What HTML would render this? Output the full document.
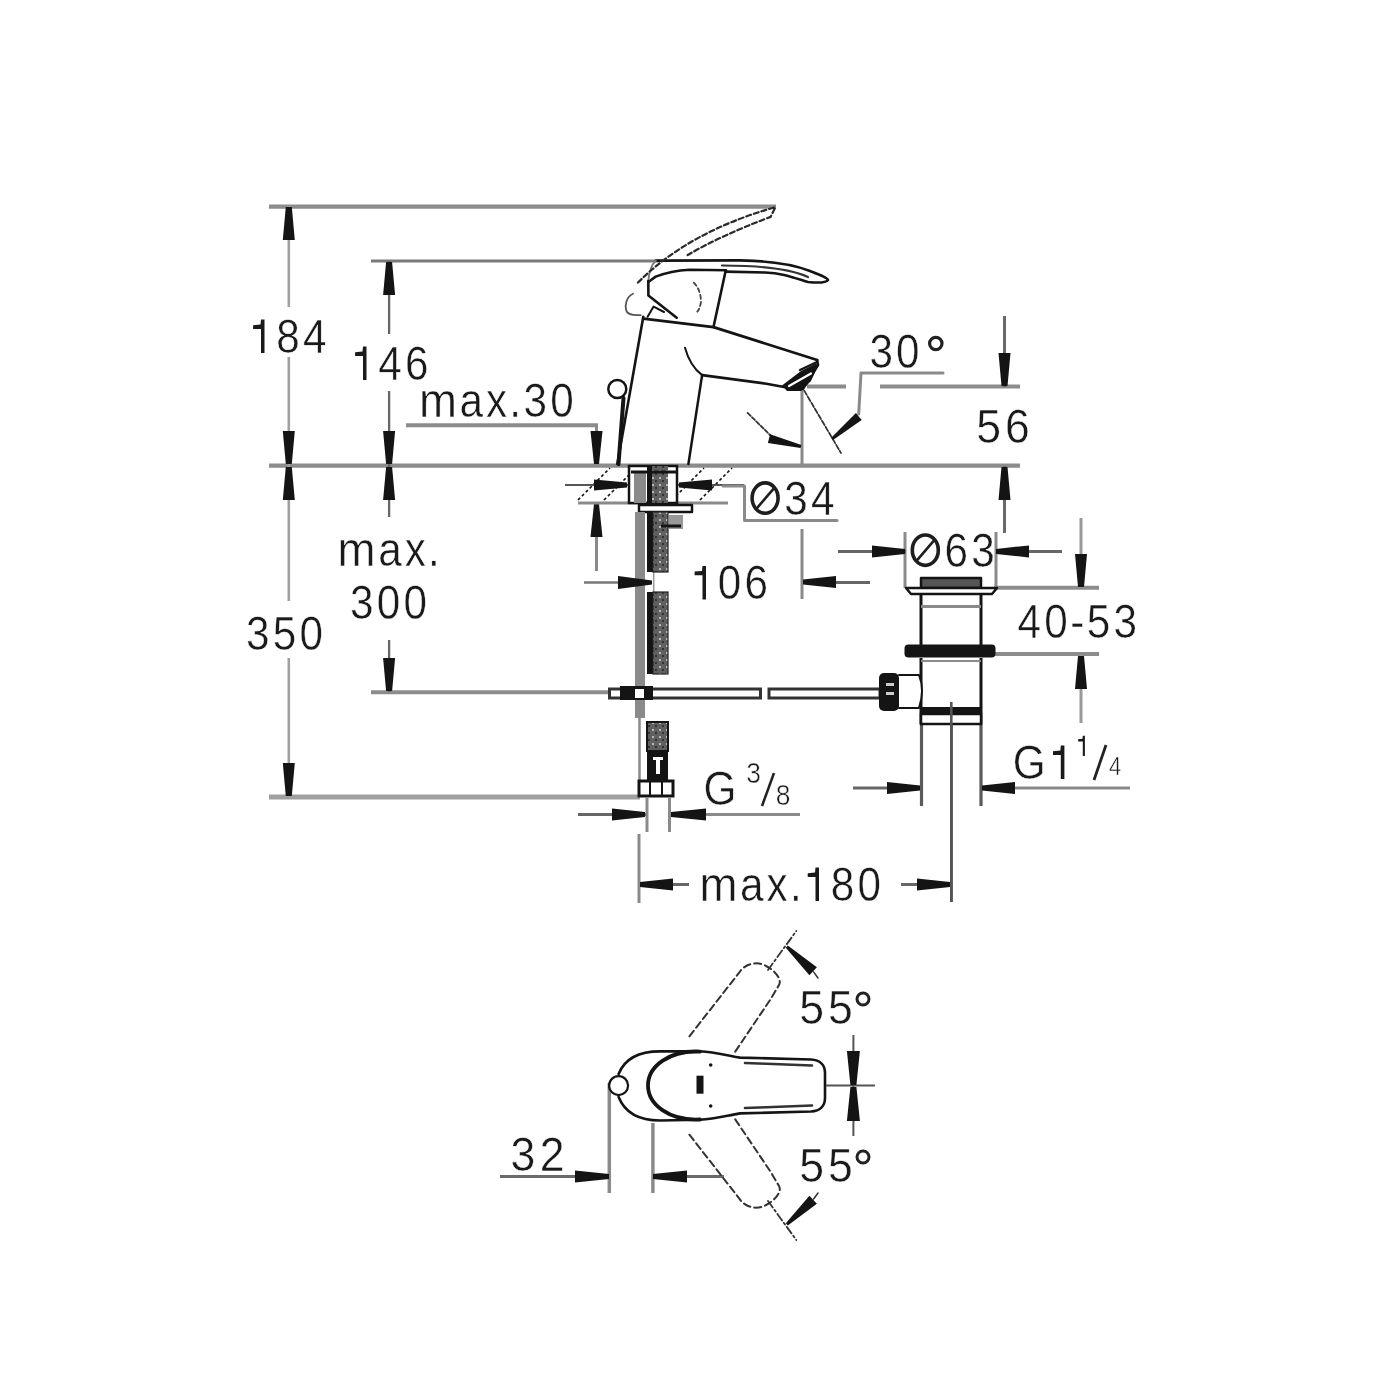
<!DOCTYPE html>
<html><head><meta charset="utf-8"><style>
html,body{margin:0;padding:0;background:#fff;}
svg{display:block;filter:blur(0.35px);}
text{font-family:"Liberation Sans",sans-serif;fill:#1a1a1a;}
</style></head><body>
<svg width="1400" height="1400" viewBox="0 0 1400 1400">
<line x1="269" y1="206.6" x2="776" y2="206.6" stroke="#8c8c8c" stroke-width="4.2" />
<line x1="371" y1="261" x2="660" y2="261" stroke="#7a7a7a" stroke-width="3.2" />
<line x1="406" y1="425.3" x2="598" y2="425.3" stroke="#8c8c8c" stroke-width="4" />
<line x1="269" y1="465.6" x2="1020" y2="465.6" stroke="#8c8c8c" stroke-width="4.2" />
<line x1="371" y1="692.3" x2="612" y2="692.3" stroke="#8c8c8c" stroke-width="4" />
<line x1="269" y1="796.9" x2="640" y2="796.9" stroke="#a0a0a0" stroke-width="5" />
<line x1="807" y1="386.5" x2="846" y2="386.5" stroke="#8c8c8c" stroke-width="4" />
<line x1="880" y1="386.5" x2="1020" y2="386.5" stroke="#8c8c8c" stroke-width="4" />
<line x1="288.8" y1="206" x2="288.8" y2="307" stroke="#a0a0a0" stroke-width="2.6" />
<line x1="288.8" y1="357" x2="288.8" y2="601" stroke="#a0a0a0" stroke-width="2.6" />
<line x1="288.8" y1="658" x2="288.8" y2="797" stroke="#a0a0a0" stroke-width="2.6" />
<polygon points="291.8,207.0 285.8,207.0 282.8,240.0 294.8,240.0" fill="#141414"/>
<polygon points="285.8,464.0 291.8,464.0 294.8,431.0 282.8,431.0" fill="#141414"/>
<polygon points="291.8,467.0 285.8,467.0 282.8,500.0 294.8,500.0" fill="#141414"/>
<polygon points="285.8,796.0 291.8,796.0 294.8,763.0 282.8,763.0" fill="#141414"/>
<polygon points="264.5,319.5 264.5,353.0 261.0,353.0 261.0,328.9 253.1,328.9 253.1,325.2 260.5,324.5 261.0,319.5" fill="#1a1a1a"/>
<text transform="translate(288.0,353) scale(0.88,1)" font-size="48" text-anchor="middle" stroke="#fff" stroke-width="0.45">8</text>
<text transform="translate(314.7,353) scale(0.88,1)" font-size="48" text-anchor="middle" stroke="#fff" stroke-width="0.45">4</text>
<text transform="translate(257.8,649.6) scale(0.88,1)" font-size="48" text-anchor="middle" stroke="#fff" stroke-width="0.45">3</text>
<text transform="translate(284.5,649.6) scale(0.88,1)" font-size="48" text-anchor="middle" stroke="#fff" stroke-width="0.45">5</text>
<text transform="translate(311.2,649.6) scale(0.88,1)" font-size="48" text-anchor="middle" stroke="#fff" stroke-width="0.45">0</text>
<line x1="389.1" y1="261" x2="389.1" y2="334" stroke="#666" stroke-width="2.3" />
<line x1="389.1" y1="391" x2="389.1" y2="517" stroke="#666" stroke-width="2.3" />
<line x1="389.1" y1="640" x2="389.1" y2="692" stroke="#666" stroke-width="2.3" />
<polygon points="392.1,262.0 386.1,262.0 383.1,295.0 395.1,295.0" fill="#141414"/>
<polygon points="386.1,464.0 392.1,464.0 395.1,431.0 383.1,431.0" fill="#141414"/>
<polygon points="392.1,467.0 386.1,467.0 383.1,500.0 395.1,500.0" fill="#141414"/>
<polygon points="386.1,691.0 392.1,691.0 395.1,658.0 383.1,658.0" fill="#141414"/>
<polygon points="366.5,346.5 366.5,380.0 363.0,380.0 363.0,355.9 355.1,355.9 355.1,352.2 362.5,351.5 363.0,346.5" fill="#1a1a1a"/>
<text transform="translate(390.0,380) scale(0.88,1)" font-size="48" text-anchor="middle" stroke="#fff" stroke-width="0.45">4</text>
<text transform="translate(416.7,380) scale(0.88,1)" font-size="48" text-anchor="middle" stroke="#fff" stroke-width="0.45">6</text>
<text transform="translate(356.6,566) scale(0.95,1)" font-size="48" text-anchor="middle" stroke="#fff" stroke-width="0.45">m</text>
<text transform="translate(389.9,566) scale(0.88,1)" font-size="48" text-anchor="middle" stroke="#fff" stroke-width="0.45">a</text>
<text transform="translate(415.3,566) scale(0.88,1)" font-size="48" text-anchor="middle" stroke="#fff" stroke-width="0.45">x</text>
<text transform="translate(433.9,566) scale(0.88,1)" font-size="48" text-anchor="middle" stroke="#fff" stroke-width="0.45">.</text>
<text transform="translate(361.8,618.6) scale(0.88,1)" font-size="48" text-anchor="middle" stroke="#fff" stroke-width="0.45">3</text>
<text transform="translate(388.5,618.6) scale(0.88,1)" font-size="48" text-anchor="middle" stroke="#fff" stroke-width="0.45">0</text>
<text transform="translate(415.2,618.6) scale(0.88,1)" font-size="48" text-anchor="middle" stroke="#fff" stroke-width="0.45">0</text>
<text transform="translate(437.9,416.8) scale(0.95,1)" font-size="48" text-anchor="middle" stroke="#fff" stroke-width="0.45">m</text>
<text transform="translate(471.2,416.8) scale(0.88,1)" font-size="48" text-anchor="middle" stroke="#fff" stroke-width="0.45">a</text>
<text transform="translate(496.6,416.8) scale(0.88,1)" font-size="48" text-anchor="middle" stroke="#fff" stroke-width="0.45">x</text>
<text transform="translate(515.2,416.8) scale(0.88,1)" font-size="48" text-anchor="middle" stroke="#fff" stroke-width="0.45">.</text>
<text transform="translate(535.3,416.8) scale(0.88,1)" font-size="48" text-anchor="middle" stroke="#fff" stroke-width="0.45">3</text>
<text transform="translate(562.0,416.8) scale(0.88,1)" font-size="48" text-anchor="middle" stroke="#fff" stroke-width="0.45">0</text>
<line x1="596.5" y1="425" x2="596.5" y2="465" stroke="#8a8a8a" stroke-width="3" />
<polygon points="594.0,464.0 599.0,464.0 602.5,431.0 590.5,431.0" fill="#141414"/>
<line x1="596.5" y1="505" x2="596.5" y2="571" stroke="#8a8a8a" stroke-width="3" />
<polygon points="599.0,504.0 594.0,504.0 590.5,537.0 602.5,537.0" fill="#141414"/>
<line x1="578" y1="503" x2="728" y2="503" stroke="#8a8a8a" stroke-width="3" />
<line x1="578" y1="500" x2="610" y2="468" stroke="#141414" stroke-width="1.6" stroke-dasharray="3 2.5"/>
<line x1="604" y1="500" x2="636" y2="468" stroke="#141414" stroke-width="1.6" stroke-dasharray="3 2.5"/>
<line x1="672" y1="500" x2="704" y2="468" stroke="#141414" stroke-width="1.6" stroke-dasharray="3 2.5"/>
<line x1="700" y1="500" x2="732" y2="468" stroke="#141414" stroke-width="1.6" stroke-dasharray="3 2.5"/>
<line x1="565" y1="485" x2="744" y2="485" stroke="#555" stroke-width="2" />
<polygon points="627.0,487.5 627.0,482.5 594.0,479.5 594.0,490.5" fill="#141414"/>
<polygon points="679.0,482.5 679.0,487.5 712.0,490.5 712.0,479.5" fill="#141414"/>
<path d="M723,486 L744.5,486 L744.5,520.5 L837,520.5" stroke="#8a8a8a" stroke-width="3" fill="none" stroke-linejoin="round" stroke-linecap="round" />
<ellipse cx="765.1" cy="498.1" rx="13.0" ry="15.2" fill="none" stroke="#1e1e1e" stroke-width="3.6"/>
<line x1="756.1" y1="509.1" x2="774.1" y2="488.1" stroke="#1e1e1e" stroke-width="2.6"/>
<text transform="translate(796.1,514.9) scale(0.88,1)" font-size="48" text-anchor="middle" stroke="#fff" stroke-width="0.45">3</text>
<text transform="translate(822.8,514.9) scale(0.88,1)" font-size="48" text-anchor="middle" stroke="#fff" stroke-width="0.45">4</text>
<defs><pattern id="br" width="7" height="7" patternUnits="userSpaceOnUse"><rect width="7" height="7" fill="#606060"/><rect x="1" y="1" width="2" height="2" fill="#b8b8b8"/><rect x="4" y="4" width="2" height="2" fill="#333"/></pattern></defs>
<rect x="629" y="466" width="48" height="37" fill="#fff" stroke="#141414" stroke-width="2.5" />
<rect x="634" y="472" width="12" height="31" fill="#8a8a8a" stroke="none" stroke-width="0" />
<rect x="647" y="466" width="5" height="37" fill="#141414" stroke="none" stroke-width="0" />
<rect x="652" y="466" width="16" height="37" fill="url(#br)" stroke="none" stroke-width="0" />
<line x1="631" y1="472" x2="676" y2="472" stroke="#141414" stroke-width="3" />
<path d="M639,505 L692,505 L692,512 L639,512 Z" stroke="#141414" stroke-width="2.5" fill="#fff" stroke-linejoin="round" stroke-linecap="round" />
<rect x="635" y="512" width="10" height="206" fill="#8a8a8a" stroke="none" stroke-width="0" />
<line x1="639.5" y1="718" x2="639.5" y2="781" stroke="#8a8a8a" stroke-width="2.5" />
<rect x="647" y="512" width="6" height="60" fill="#141414" stroke="none" stroke-width="0" />
<rect x="647" y="592" width="6" height="82" fill="#141414" stroke="none" stroke-width="0" />
<line x1="653.7" y1="572" x2="653.7" y2="592" stroke="#999" stroke-width="1.5" />
<rect x="653" y="512" width="15" height="60" fill="url(#br)" stroke="#222" stroke-width="1.2" />
<rect x="653" y="592" width="15" height="82" fill="url(#br)" stroke="#222" stroke-width="1.2" />
<rect x="647" y="722" width="21" height="29" fill="url(#br)" stroke="#141414" stroke-width="2" />
<rect x="669" y="515" width="14" height="14" fill="#999" stroke="none" stroke-width="0" />
<line x1="661" y1="526" x2="681" y2="526" stroke="#141414" stroke-width="3" />
<rect x="647" y="751" width="21" height="30" fill="#141414" stroke="none" stroke-width="0" />
<rect x="653" y="757" width="10" height="3" fill="#fff" stroke="none" stroke-width="0" />
<rect x="656" y="760" width="4" height="14" fill="#fff" stroke="none" stroke-width="0" />
<rect x="639" y="781" width="34" height="15" fill="#fff" stroke="#141414" stroke-width="3" />
<line x1="650" y1="782" x2="650" y2="795" stroke="#141414" stroke-width="2" />
<line x1="662" y1="782" x2="662" y2="795" stroke="#141414" stroke-width="2" />
<rect x="609.5" y="689" width="151" height="9" fill="#fff" stroke="#333" stroke-width="3"/>
<rect x="769" y="689" width="111" height="9" fill="#fff" stroke="#333" stroke-width="3"/>
<rect x="620" y="686" width="33" height="14" fill="#141414" stroke="none" stroke-width="0" />
<rect x="635" y="689" width="9" height="9" fill="#fff" stroke="none" stroke-width="0" />
<line x1="584" y1="582.4" x2="620" y2="582.4" stroke="#777" stroke-width="2.5" />
<polygon points="652.0,584.4 652.0,580.4 618.0,575.9 618.0,588.9" fill="#141414"/>
<line x1="802" y1="389" x2="802" y2="464" stroke="#8a8a8a" stroke-width="3" />
<line x1="802" y1="529" x2="802" y2="599" stroke="#8a8a8a" stroke-width="3" />
<line x1="803" y1="582.4" x2="870" y2="582.4" stroke="#666" stroke-width="3" />
<polygon points="803.0,579.5 803.0,584.5 836.0,588.0 836.0,576.0" fill="#141414"/>
<polygon points="706.0,565.9 706.0,599.4 702.5,599.4 702.5,575.3 694.6,575.3 694.6,571.6 702.0,570.9 702.5,565.9" fill="#1a1a1a"/>
<text transform="translate(729.5,599.4) scale(0.88,1)" font-size="48" text-anchor="middle" stroke="#fff" stroke-width="0.45">0</text>
<text transform="translate(756.2,599.4) scale(0.88,1)" font-size="48" text-anchor="middle" stroke="#fff" stroke-width="0.45">6</text>
<line x1="647" y1="797" x2="647" y2="832" stroke="#8a8a8a" stroke-width="3" />
<line x1="669.5" y1="797" x2="669.5" y2="832" stroke="#8a8a8a" stroke-width="3" />
<line x1="578" y1="814.5" x2="646" y2="814.5" stroke="#666" stroke-width="3" />
<polygon points="645.0,817.0 645.0,812.0 612.0,808.5 612.0,820.5" fill="#141414"/>
<line x1="670" y1="814.5" x2="800" y2="814.5" stroke="#8a8a8a" stroke-width="3" />
<polygon points="671.0,812.0 671.0,817.0 706.0,820.5 706.0,808.5" fill="#141414"/>
<text transform="translate(720.0,805) scale(0.88,1)" font-size="48" text-anchor="middle" stroke="#fff" stroke-width="0.45">G</text>
<text transform="translate(753.5,782.5) scale(0.88,1)" font-size="30" text-anchor="middle" stroke="#fff" stroke-width="0.5">3</text>
<line x1="774" y1="773" x2="762" y2="806" stroke="#222" stroke-width="2.5"/>
<text transform="translate(783.0,805) scale(0.88,1)" font-size="30" text-anchor="middle" stroke="#fff" stroke-width="0.5">8</text>
<line x1="639" y1="834" x2="639" y2="903" stroke="#8a8a8a" stroke-width="3" />
<line x1="951.5" y1="707" x2="951.5" y2="902" stroke="#444" stroke-width="2.5" />
<line x1="640" y1="884.5" x2="689" y2="884.5" stroke="#666" stroke-width="3" />
<polygon points="640.0,882.0 640.0,887.0 673.0,890.5 673.0,878.5" fill="#141414"/>
<line x1="901" y1="884.5" x2="950" y2="884.5" stroke="#666" stroke-width="3" />
<polygon points="950.0,887.0 950.0,882.0 917.0,878.5 917.0,890.5" fill="#141414"/>
<text transform="translate(718.4,901) scale(0.95,1)" font-size="48" text-anchor="middle" stroke="#fff" stroke-width="0.45">m</text>
<text transform="translate(751.8,901) scale(0.88,1)" font-size="48" text-anchor="middle" stroke="#fff" stroke-width="0.45">a</text>
<text transform="translate(777.1,901) scale(0.88,1)" font-size="48" text-anchor="middle" stroke="#fff" stroke-width="0.45">x</text>
<text transform="translate(795.8,901) scale(0.88,1)" font-size="48" text-anchor="middle" stroke="#fff" stroke-width="0.45">.</text>
<polygon points="819.0,867.5 819.0,901.0 815.5,901.0 815.5,876.9 807.7,876.9 807.7,873.2 815.0,872.5 815.5,867.5" fill="#1a1a1a"/>
<text transform="translate(842.5,901) scale(0.88,1)" font-size="48" text-anchor="middle" stroke="#fff" stroke-width="0.45">8</text>
<text transform="translate(869.2,901) scale(0.88,1)" font-size="48" text-anchor="middle" stroke="#fff" stroke-width="0.45">0</text>
<path d="M643.3,316.8 L617.3,464" stroke="#141414" stroke-width="2.6" fill="none" stroke-linejoin="round" stroke-linecap="round" />
<path d="M702.1,375.1 L688.4,464" stroke="#141414" stroke-width="2.5" fill="none" stroke-linejoin="round" stroke-linecap="round" />
<path d="M643.3,318.6 L713.5,327.1 L817.1,360" stroke="#141414" stroke-width="2.8" fill="none" stroke-linejoin="round" stroke-linecap="round" />
<path d="M817.1,360 L818,365 L803,388.9 L784,387 L766.4,383.7 L702.1,375.1" stroke="#141414" stroke-width="2.6" fill="none" stroke-linejoin="round" stroke-linecap="round" />
<polygon points="782,385.5 801,371 816,363.5 818,366 811,381 801,391 787,391" fill="#141414"/>
<path d="M789,386 L811,373.5" stroke="#fff" stroke-width="2.2" fill="none" stroke-linejoin="round" stroke-linecap="round" />
<path d="M800,370 L817,362" stroke="#141414" stroke-width="2.4" fill="none" stroke-linejoin="round" stroke-linecap="round" />
<path d="M685,347.7 Q690,366 702.1,375.1" stroke="#141414" stroke-width="2" fill="none" stroke-linejoin="round" stroke-linecap="round" />
<path d="M656,260.6 L740,260.4 C770,260.8 795,265 810,271 C820,275 828,278 828,280 C826,283 818,283 808,282 C792,277 782,273 765,272.5 L725.5,271.6" stroke="#141414" stroke-width="2.6" fill="none" stroke-linejoin="round" stroke-linecap="round" />
<path d="M648.3,282 L655.7,276.6 C665,273 676,270.5 689.6,269.7 L726,270.2" stroke="#141414" stroke-width="2.6" fill="none" stroke-linejoin="round" stroke-linecap="round" />
<path d="M722,265.5 C760,265.5 790,269 808,277" stroke="#333" stroke-width="2.2" fill="none" stroke-linejoin="round" stroke-linecap="round" />
<path d="M648.3,281 C649,272 651,265 656,260.6" stroke="#777" stroke-width="1.8" fill="none" stroke-linejoin="round" stroke-linecap="round" />
<path d="M725.5,271.6 L713.5,327.1" stroke="#141414" stroke-width="2.6" fill="none" stroke-linejoin="round" stroke-linecap="round" />
<path d="M648.3,281 L648.4,295.4 L676.7,317.7" stroke="#141414" stroke-width="2.6" fill="none" stroke-linejoin="round" stroke-linecap="round" />
<path d="M647.6,316.8 L653.6,306.6 L664,312" stroke="#141414" stroke-width="2" fill="none" stroke-linejoin="round" stroke-linecap="round" />
<path d="M633,293.7 C626,297 625,305 626.1,310 C627,315 633,315.5 640.7,315.1" stroke="#555" stroke-width="1.8" fill="none" stroke-linejoin="round" stroke-linecap="round" />
<path d="M693.8,282.6 C699,288 701,295 701,302 C700,307 699,310 697.3,311.7" stroke="#444" stroke-width="1.8" fill="none" stroke-linejoin="round" stroke-linecap="round" stroke-dasharray="4 3"/>
<path d="M638,282.6 Q688,232 775.4,207.1 L770.6,216.9 Q720,236 687.6,255" stroke="#2a2a2a" stroke-width="2.2" fill="none" stroke-linejoin="round" stroke-linecap="round" stroke-dasharray="5 3"/>
<circle cx="617.3" cy="388.9" r="9" fill="#fff" stroke="#141414" stroke-width="2.5"/>
<path d="M623.5,398 L618.5,464" stroke="#141414" stroke-width="4" fill="none" stroke-linejoin="round" stroke-linecap="round" />
<path d="M804.2,390.6 L841,453" stroke="#333" stroke-width="1.8" fill="none" stroke-linejoin="round" stroke-linecap="round" stroke-dasharray="5 2"/>
<path d="M747.6,412.9 Q765,430 770,435" stroke="#333" stroke-width="1.8" fill="none" stroke-linejoin="round" stroke-linecap="round" stroke-dasharray="4 2"/>
<polygon points="800.6,448.0 801.4,445.0 770.1,434.2 767.9,442.9" fill="#141414"/>
<path d="M943,373 L861,373 L858.7,414" stroke="#8a8a8a" stroke-width="3" fill="none" stroke-linejoin="round" stroke-linecap="round" />
<polygon points="831.0,437.9 833.0,440.1 861.7,419.9 855.9,413.1" fill="#141414"/>
<text transform="translate(881.2,368) scale(0.88,1)" font-size="48" text-anchor="middle" stroke="#fff" stroke-width="0.45">3</text>
<text transform="translate(907.8,368) scale(0.88,1)" font-size="48" text-anchor="middle" stroke="#fff" stroke-width="0.45">0</text>
<circle cx="935.8" cy="343.5" r="6.2" fill="none" stroke="#222" stroke-width="3.2"/>
<line x1="1004.5" y1="316" x2="1004.5" y2="387" stroke="#6a6a6a" stroke-width="3" />
<polygon points="1001.5,386.0 1007.5,386.0 1010.5,353.0 998.5,353.0" fill="#141414"/>
<line x1="1004.5" y1="466" x2="1004.5" y2="533" stroke="#6a6a6a" stroke-width="3" />
<polygon points="1007.5,467.0 1001.5,467.0 998.5,500.0 1010.5,500.0" fill="#141414"/>
<text transform="translate(988.7,442.5) scale(0.93,1)" font-size="48" text-anchor="middle" stroke="#fff" stroke-width="0.45">5</text>
<text transform="translate(1017.3,442.5) scale(0.93,1)" font-size="48" text-anchor="middle" stroke="#fff" stroke-width="0.45">6</text>
<line x1="905" y1="532" x2="905" y2="588" stroke="#8a8a8a" stroke-width="3" />
<line x1="996" y1="532" x2="996" y2="588" stroke="#8a8a8a" stroke-width="3" />
<line x1="838" y1="551.4" x2="906" y2="551.4" stroke="#666" stroke-width="3" />
<polygon points="905.0,553.9 905.0,548.9 872.0,545.4 872.0,557.4" fill="#141414"/>
<line x1="996" y1="551.4" x2="1062" y2="551.4" stroke="#666" stroke-width="3" />
<polygon points="996.0,548.9 996.0,553.9 1029.0,557.4 1029.0,545.4" fill="#141414"/>
<ellipse cx="925.3" cy="550.2" rx="13.0" ry="15.2" fill="none" stroke="#1e1e1e" stroke-width="3.6"/>
<line x1="916.3" y1="561.2" x2="934.3" y2="540.2" stroke="#1e1e1e" stroke-width="2.6"/>
<text transform="translate(956.3,567) scale(0.88,1)" font-size="48" text-anchor="middle" stroke="#fff" stroke-width="0.45">6</text>
<text transform="translate(983.0,567) scale(0.88,1)" font-size="48" text-anchor="middle" stroke="#fff" stroke-width="0.45">3</text>
<line x1="994" y1="587.8" x2="1099" y2="587.8" stroke="#8c8c8c" stroke-width="4" />
<line x1="994" y1="654" x2="1099" y2="654" stroke="#8c8c8c" stroke-width="4" />
<line x1="1081" y1="518" x2="1081" y2="588" stroke="#999" stroke-width="3" />
<polygon points="1078.0,587.0 1084.0,587.0 1087.0,554.0 1075.0,554.0" fill="#141414"/>
<line x1="1081" y1="655" x2="1081" y2="723" stroke="#999" stroke-width="3" />
<polygon points="1084.0,656.0 1078.0,656.0 1075.0,689.0 1087.0,689.0" fill="#141414"/>
<text transform="translate(1029.3,638) scale(0.88,1)" font-size="48" text-anchor="middle" stroke="#fff" stroke-width="0.45">4</text>
<text transform="translate(1056.0,638) scale(0.88,1)" font-size="48" text-anchor="middle" stroke="#fff" stroke-width="0.45">0</text>
<text transform="translate(1077.3,638) scale(0.88,1)" font-size="48" text-anchor="middle" stroke="#fff" stroke-width="0.45">-</text>
<text transform="translate(1098.6,638) scale(0.88,1)" font-size="48" text-anchor="middle" stroke="#fff" stroke-width="0.45">5</text>
<text transform="translate(1125.3,638) scale(0.88,1)" font-size="48" text-anchor="middle" stroke="#fff" stroke-width="0.45">3</text>
<path d="M921,578 L981,578 L981,588 L921,588 Z" stroke="#141414" stroke-width="2.5" fill="#555" stroke-linejoin="round" stroke-linecap="round" />
<path d="M906,588 L997,588 L992,594 L911,594 Z" stroke="#141414" stroke-width="2.5" fill="#fff" stroke-linejoin="round" stroke-linecap="round" />
<line x1="921" y1="594" x2="921" y2="645" stroke="#141414" stroke-width="3" />
<line x1="981" y1="594" x2="981" y2="645" stroke="#141414" stroke-width="3" />
<line x1="921" y1="606.5" x2="981" y2="606.5" stroke="#8a8a8a" stroke-width="3" />
<rect x="904.5" y="644.5" width="91" height="13" rx="4" fill="#141414"/>
<line x1="921" y1="658" x2="921" y2="724" stroke="#141414" stroke-width="3" />
<line x1="981" y1="658" x2="981" y2="724" stroke="#141414" stroke-width="3" />
<line x1="921.5" y1="724" x2="921.5" y2="806" stroke="#5a5a5a" stroke-width="3.2" />
<line x1="981" y1="724" x2="981" y2="806" stroke="#5a5a5a" stroke-width="3.2" />
<line x1="921" y1="661" x2="981" y2="661" stroke="#8a8a8a" stroke-width="2" />
<path d="M899,675 L919,675 Q925,690 919,708 L899,708" stroke="#141414" stroke-width="2" fill="#fff" stroke-linejoin="round" stroke-linecap="round" />
<rect x="879" y="673" width="20" height="38" rx="5" fill="#141414"/>
<rect x="886" y="683" width="8" height="3" fill="#ccc" stroke="none" stroke-width="0" />
<rect x="886" y="692" width="8" height="3" fill="#ccc" stroke="none" stroke-width="0" />
<rect x="921" y="707" width="60" height="7" fill="#141414" stroke="none" stroke-width="0" />
<rect x="921" y="714" width="60" height="10" fill="#fff" stroke="#141414" stroke-width="2.5" />
<line x1="951.3" y1="702" x2="951.3" y2="902" stroke="#555" stroke-width="2.6" />
<line x1="853" y1="788" x2="920" y2="788" stroke="#666" stroke-width="3" />
<polygon points="920.0,790.5 920.0,785.5 887.0,782.0 887.0,794.0" fill="#141414"/>
<line x1="982" y1="788" x2="1130" y2="788" stroke="#8a8a8a" stroke-width="3" />
<polygon points="982.0,785.5 982.0,790.5 1015.0,794.0 1015.0,782.0" fill="#141414"/>
<text transform="translate(1029.2,779) scale(0.88,1)" font-size="48" text-anchor="middle" stroke="#fff" stroke-width="0.45">G</text>
<polygon points="1064.4,745.5 1064.4,779.0 1060.8,779.0 1060.8,754.9 1053.0,754.9 1053.0,751.2 1060.4,750.5 1060.8,745.5" fill="#1a1a1a"/>
<polygon points="1084.9,735.8 1084.9,756.0 1082.8,756.0 1082.8,741.4 1078.1,741.4 1078.1,739.2 1082.5,738.8 1082.8,735.8" fill="#1a1a1a"/>
<line x1="1106" y1="745" x2="1094" y2="780" stroke="#222" stroke-width="2.8"/>
<text transform="translate(1115.0,775) scale(0.88,1)" font-size="25" text-anchor="middle" stroke="#fff" stroke-width="0.5">4</text>
<line x1="609.3" y1="1083" x2="609.3" y2="1193" stroke="#8a8a8a" stroke-width="3.5" />
<line x1="652.9" y1="1123" x2="652.9" y2="1193" stroke="#8a8a8a" stroke-width="3.5" />
<line x1="500" y1="1176.4" x2="609" y2="1176.4" stroke="#6a6a6a" stroke-width="3" />
<polygon points="609.0,1178.9 609.0,1173.9 575.0,1170.4 575.0,1182.4" fill="#141414"/>
<line x1="653" y1="1176.4" x2="724" y2="1176.4" stroke="#6a6a6a" stroke-width="3" />
<polygon points="653.0,1173.9 653.0,1178.9 687.0,1182.4 687.0,1170.4" fill="#141414"/>
<text transform="translate(522.9,1170.7) scale(0.93,1)" font-size="48" text-anchor="middle" stroke="#fff" stroke-width="0.45">3</text>
<text transform="translate(552.1,1170.7) scale(0.93,1)" font-size="48" text-anchor="middle" stroke="#fff" stroke-width="0.45">2</text>
<path d="M618.6,1074 C625,1058 640,1051.4 660,1051.4 L700,1051.2 C715,1052 725,1055 740,1057.6 L811,1059.5 C820,1060 825,1065 825,1073 L825,1098 C825,1106 820,1111 811,1111.5 L740,1113.4 C725,1116 715,1119 700,1119.8 L660,1120.5 C640,1120.5 625,1113 618.6,1097" stroke="#141414" stroke-width="2.6" fill="none" stroke-linejoin="round" stroke-linecap="round" />
<path d="M700,1051.6 C670,1050 648,1066 648,1085.5 C648,1105 670,1121 700,1119.5" stroke="#141414" stroke-width="3.8" fill="none" stroke-linejoin="round" stroke-linecap="round" />
<path d="M745,1063 L812,1065.5" stroke="#333" stroke-width="2.6" fill="none" stroke-linejoin="round" stroke-linecap="round" />
<path d="M745,1108 L812,1105.5" stroke="#333" stroke-width="2.6" fill="none" stroke-linejoin="round" stroke-linecap="round" />
<circle cx="618.6" cy="1085.6" r="9.5" fill="#fff" stroke="#141414" stroke-width="2.2"/>
<rect x="696.5" y="1075.7" width="7" height="18" fill="#141414" stroke="none" stroke-width="0" />
<circle cx="710.7" cy="1065" r="1.8" fill="#141414"/>
<circle cx="710.7" cy="1106" r="1.8" fill="#141414"/>
<line x1="826" y1="1085.5" x2="875" y2="1085.5" stroke="#555" stroke-width="2" />
<path d="M689.4,1036.3 L739.7,971.9 C744,965 756,960 766,966 C776,971 782,980 779,985 L771,998.6 L735,1052" stroke="#333" stroke-width="2" fill="none" stroke-linejoin="round" stroke-linecap="round" stroke-dasharray="7 4"/>
<path d="M689.4,1134.7 L739.7,1199.1 C744,1206 756,1211 766,1205 C776,1200 782,1191 779,1186 L771,1172.4 L735,1119" stroke="#333" stroke-width="2" fill="none" stroke-linejoin="round" stroke-linecap="round" stroke-dasharray="7 4"/>
<path d="M768,970 L796.3,931" stroke="#333" stroke-width="1.8" fill="none" stroke-linejoin="round" stroke-linecap="round" stroke-dasharray="8 3 2 3"/>
<path d="M768,1201 L796.3,1240" stroke="#333" stroke-width="1.8" fill="none" stroke-linejoin="round" stroke-linecap="round" stroke-dasharray="8 3 2 3"/>
<polygon points="787.8,945.6 785.8,947.8 809.4,975.3 816.9,967.2" fill="#141414"/>
<polygon points="785.8,1223.2 787.8,1225.4 816.9,1203.8 809.4,1195.7" fill="#141414"/>
<path d="M813.6,971.9 L818,978" stroke="#333" stroke-width="1.5" fill="none" stroke-linejoin="round" stroke-linecap="round" />
<path d="M813.6,1199 L818,1193" stroke="#333" stroke-width="1.5" fill="none" stroke-linejoin="round" stroke-linecap="round" />
<line x1="853.4" y1="1035" x2="853.4" y2="1136" stroke="#555" stroke-width="2" />
<polygon points="850.4,1085.0 856.4,1085.0 859.9,1051.0 846.9,1051.0" fill="#141414"/>
<polygon points="856.4,1087.0 850.4,1087.0 846.9,1121.0 859.9,1121.0" fill="#141414"/>
<text transform="translate(811.7,1023.7) scale(0.93,1)" font-size="48" text-anchor="middle" stroke="#fff" stroke-width="0.45">5</text>
<text transform="translate(840.3,1023.7) scale(0.93,1)" font-size="48" text-anchor="middle" stroke="#fff" stroke-width="0.45">5</text>
<circle cx="863" cy="999" r="6" fill="none" stroke="#222" stroke-width="3"/>
<text transform="translate(811.7,1182) scale(0.93,1)" font-size="48" text-anchor="middle" stroke="#fff" stroke-width="0.45">5</text>
<text transform="translate(840.3,1182) scale(0.93,1)" font-size="48" text-anchor="middle" stroke="#fff" stroke-width="0.45">5</text>
<circle cx="863" cy="1157" r="6" fill="none" stroke="#222" stroke-width="3"/>
</svg>
</body></html>
